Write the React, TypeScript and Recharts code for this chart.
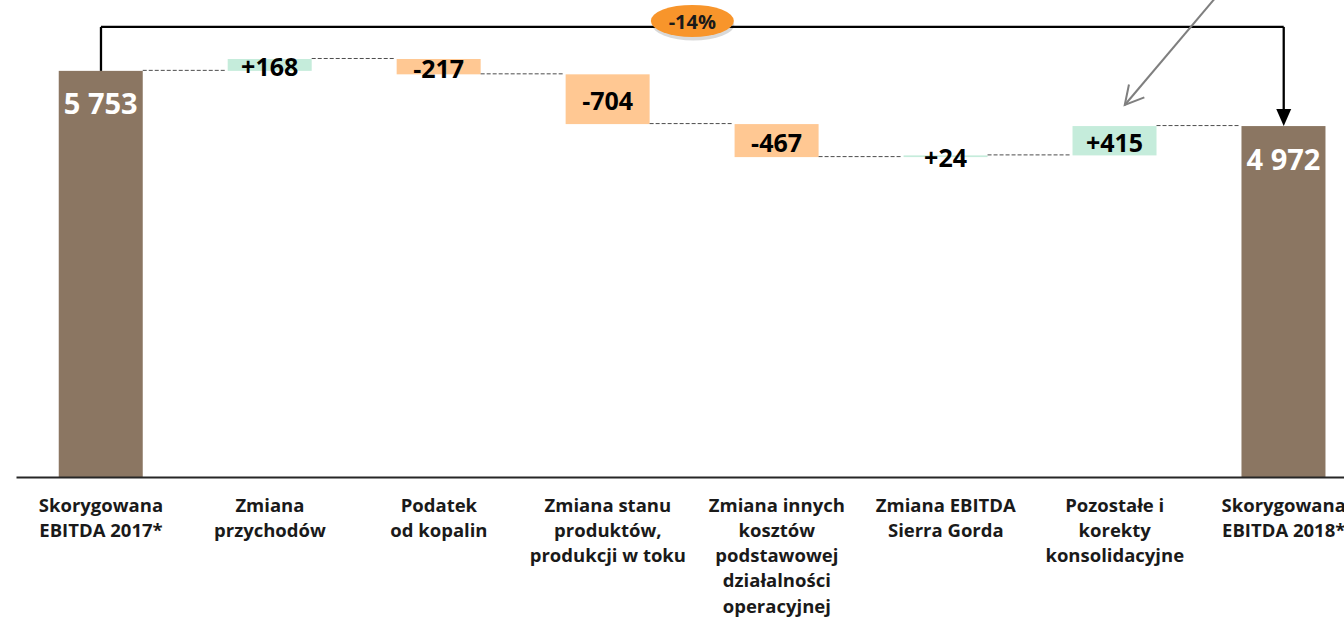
import React from "react"
import {
  ComposedChart,
  Bar,
  XAxis,
  YAxis,
  ReferenceLine,
  ReferenceDot,
} from "recharts"

const CATEGORIES = [
  "Skorygowana\nEBITDA 2017*",
  "Zmiana\nprzychodów",
  "Podatek\nod kopalin",
  "Zmiana stanu\nproduktów,\nprodukcji w toku",
  "Zmiana innych\nkosztów\npodstawowej\ndziałalności\noperacyjnej",
  "Zmiana EBITDA\nSierra Gorda",
  "Pozostałe i\nkorekty\nkonsolidacyjne",
  "Skorygowana\nEBITDA 2018*",
]
const VALUES = [5753, 168, -217, -704, -467, 24, 415, 4972]
const IS_TOTAL = [true, false, false, false, false, false, false, true]
const CHANGE_LABEL = "-14%"
const BRACKET_LEVEL = 6375
const NOTE_ARROW_LEVEL = 5270

const COLORS = {
  total: "#8B7662",
  up: "#C5ECDB",
  down: "#FFC893",
}

const fmtTotal = (v: number) => String(v).replace(/\B(?=(\d{3})+(?!\d))/g, " ")
const fmtDelta = (v: number) => (v > 0 ? `+${v}` : `${v}`)

let running = 0
const rows = CATEGORIES.map((name, i) => {
  const v = VALUES[i]
  if (IS_TOTAL[i]) {
    running = v
    return { name, base: 0, size: v, kind: "total", text: fmtTotal(v), last: i === CATEGORIES.length - 1 }
  }
  const start = running
  const end = running + v
  running = end
  return {
    name,
    base: Math.min(start, end),
    size: Math.abs(v),
    kind: v >= 0 ? "up" : "down",
    text: fmtDelta(v),
    last: i === CATEGORIES.length - 1,
  }
})

const WaterfallShape = (props: any) => {
  const { x, y, width, height, payload } = props
  const fill = COLORS[payload.kind as keyof typeof COLORS]
  const level = payload.kind === "down" ? y + height : y
  return (
    <g>
      <rect x={x} y={y} width={width} height={height} fill={fill} />
      {!payload.last && (
        <line
          x1={x + width}
          x2={x + 2 * width}
          y1={level - 0.5}
          y2={level - 0.5}
          stroke="#4d4d4d"
          strokeWidth={1}
          strokeDasharray="4 2"
        />
      )}
      {payload.kind === "total" ? (
        <text
          x={x + width / 2}
          y={y + 32}
          textAnchor="middle"
          dominantBaseline="central"
          fill="#fff"
          fontSize={29}
          fontWeight={700}
        >
          {payload.text}
        </text>
      ) : (
        <text
          x={x + width / 2}
          y={y + height / 2 + 1}
          textAnchor="middle"
          dominantBaseline="central"
          fill="#000"
          fontSize={25}
          fontWeight={700}
        >
          {payload.text}
        </text>
      )}
    </g>
  )
}

const CategoryTick = ({ x, y, payload }: any) => {
  const lines = String(payload.value).split("\n")
  return (
    <text x={x} y={y} textAnchor="middle" fill="#1a1a1a" fontSize={18.5} fontWeight={700}>
      {lines.map((l, i) => (
        <tspan key={i} x={x} dy={i === 0 ? 34 : 25.3}>
          {l}
        </tspan>
      ))}
    </text>
  )
}

const ArrowDownShape = (p: any) => {
  const { x1, y1, x2, y2 } = p
  return (
    <g>
      <line x1={x1} y1={y1} x2={x2} y2={y2 - 14} stroke="#000" strokeWidth={2.3} />
      <polygon points={`${x2 - 7.5},${y2 - 17} ${x2 + 7.5},${y2 - 17} ${x2},${y2}`} fill="#000" />
    </g>
  )
}

const PlainShape = (p: any) => (
  <line x1={p.x1} y1={p.y1} x2={p.x2} y2={p.y2} stroke="#000" strokeWidth={2.3} />
)

const PctLabel = (props: any) => {
  const vb = props.viewBox || {}
  const cx = vb.x + (vb.width || 0) / 2
  const cy = vb.y - 6
  return (
    <g>
      <ellipse cx={cx + 1} cy={cy + 4} rx={41} ry={15.5} fill="#000" opacity={0.15} />
      <ellipse cx={cx} cy={cy} rx={41.5} ry={16} fill="#F8952B" />
      <text x={cx} y={cy + 1} textAnchor="middle" dominantBaseline="central" fill="#1a1a1a" fontSize={20} fontWeight={700}>
        {CHANGE_LABEL}
      </text>
    </g>
  )
}

const NoteArrow = (props: any) => {
  const tx = props.cx + 10
  const ty = props.cy
  const ang = Math.atan2(-110, 93)
  const arm = 21
  const a1 = ang + 0.5
  const a2 = ang - 0.5
  return (
    <g stroke="#7F7F7F" strokeWidth={2} fill="none">
      <line x1={tx} y1={ty} x2={tx + 93} y2={ty - 110} />
      <polyline
        points={`${tx + arm * Math.cos(a1)},${ty + arm * Math.sin(a1)} ${tx},${ty} ${tx + arm * Math.cos(a2)},${ty + arm * Math.sin(a2)}`}
      />
    </g>
  )
}

export default function App() {
  return (
    <div
      style={{
        position: "absolute",
        left: 0,
        top: 0,
        width: 1344,
        height: 618,
        overflow: "hidden",
        fontFamily: "'Open Sans', sans-serif",
        background: "#fff",
      }}
    >
      <ComposedChart
        width={1369}
        height={618}
        data={rows}
        margin={{ top: 11, right: 0.8, left: 16.5, bottom: 0 }}
        barCategoryGap="25%"
      >
        <XAxis
          dataKey="name"
          interval={0}
          height={140.5}
          tickLine={false}
          tickSize={0}
          tickMargin={0}
          axisLine={{ stroke: "#262626", strokeWidth: 2 }}
          tick={<CategoryTick />}
        />
        <YAxis hide domain={[0, 6600]} />
        <Bar dataKey="base" stackId="w" fill="transparent" isAnimationActive={false} />
        <Bar dataKey="size" stackId="w" shape={<WaterfallShape />} isAnimationActive={false} />
        <ReferenceLine
          segment={[
            { x: CATEGORIES[0], y: VALUES[0] },
            { x: CATEGORIES[0], y: BRACKET_LEVEL },
          ]}
          shape={<PlainShape />}
        />
        <ReferenceLine
          segment={[
            { x: CATEGORIES[0], y: BRACKET_LEVEL },
            { x: CATEGORIES[7], y: BRACKET_LEVEL },
          ]}
          shape={<PlainShape />}
          label={<PctLabel />}
        />
        <ReferenceLine
          segment={[
            { x: CATEGORIES[7], y: BRACKET_LEVEL },
            { x: CATEGORIES[7], y: VALUES[7] },
          ]}
          shape={<ArrowDownShape />}
        />
        <ReferenceDot x={CATEGORIES[6]} y={NOTE_ARROW_LEVEL} shape={<NoteArrow />} />
      </ComposedChart>
    </div>
  )
}
